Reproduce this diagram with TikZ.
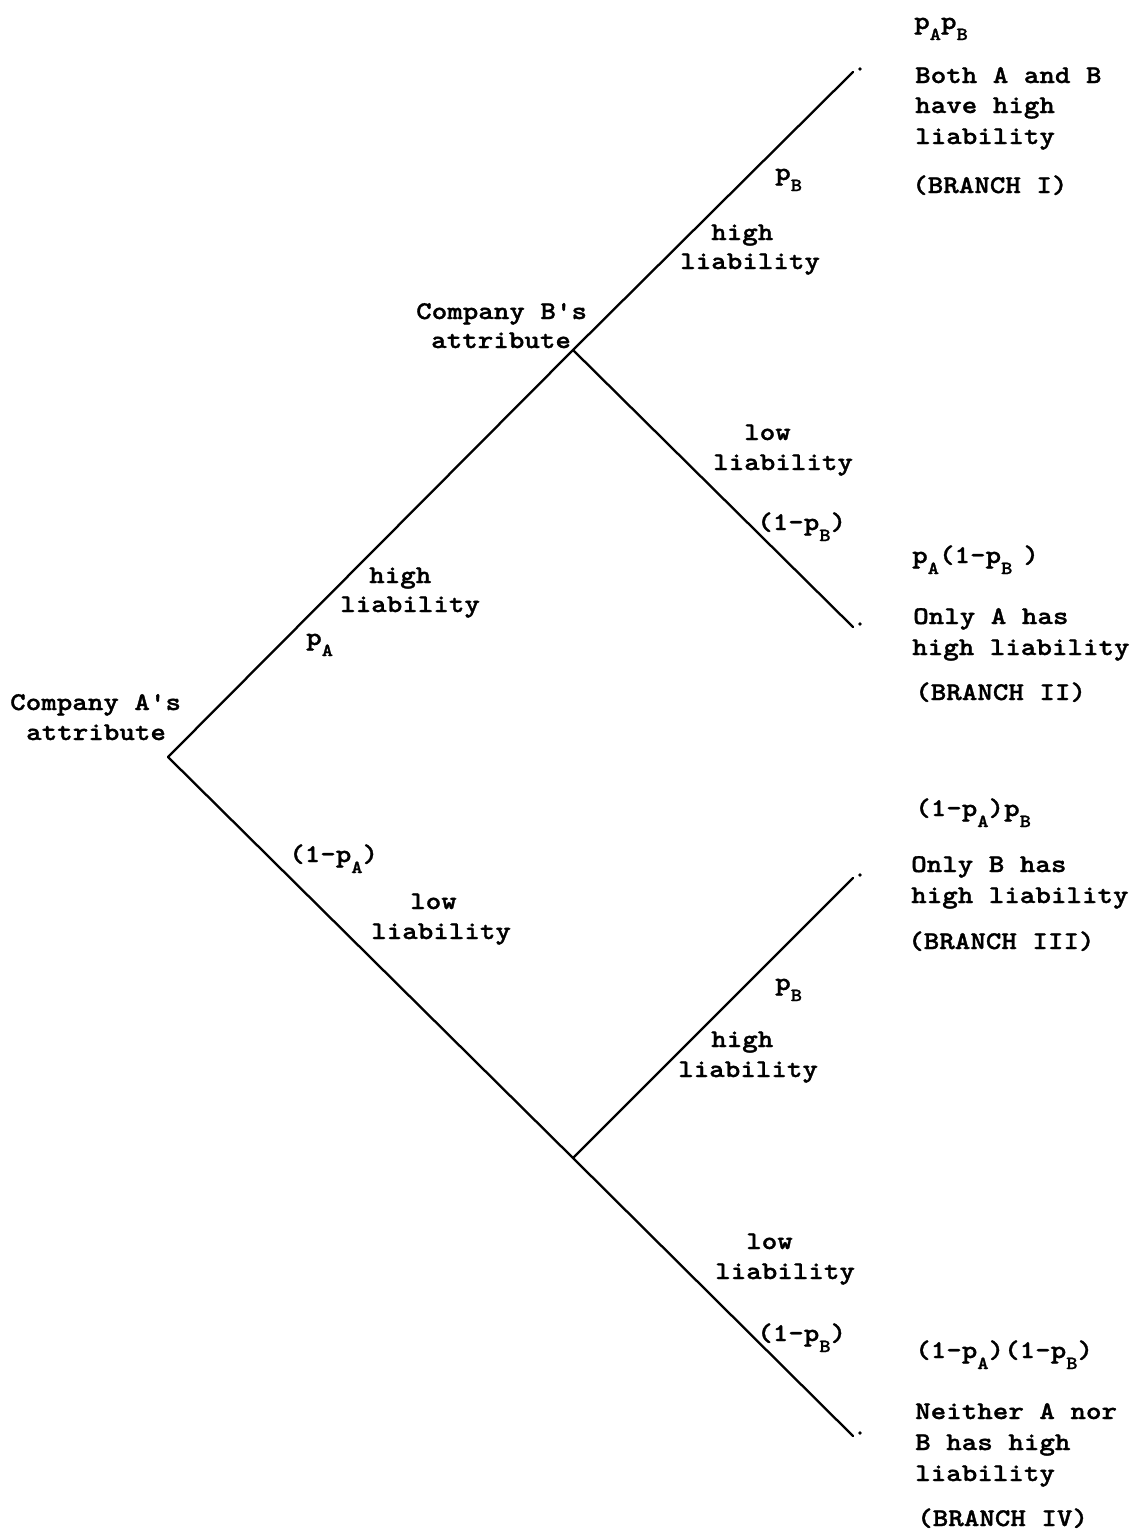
\documentclass[tikz,border=0pt]{standalone}
\usepackage{fontspec}
% dark slab-serif typewriter face, widened to a 15.5pt pitch
\newfontfamily\tw{lmmonolt10-bold.otf}[FakeStretch=1.16, FakeBold=1.2]
% lowered, smaller index letter (typewriter style subscript)
\newcommand\lsub[1]{\raisebox{-11pt}{\fontsize{18.5pt}{18.5pt}\selectfont #1}}
\begin{document}
\begin{tikzpicture}[x=1pt,y=-1pt,
  branch/.style={line width=2.3pt, line cap=round},
  lbl/.style={anchor=base west, inner sep=0pt,
    font=\tw\fontsize{25.5pt}{30pt}\selectfont},
  tip/.style={circle, fill, inner sep=0pt, minimum size=3.8pt}]
\useasboundingbox (0,0) rectangle (1141,1534);

% tree vertices
\coordinate (root) at (168,757);
\coordinate (bhi) at (573,350);
\coordinate (blo) at (573,1158);
\coordinate (e1) at (853,72);
\coordinate (e2) at (853,627);
\coordinate (e3) at (853,878);
\coordinate (e4) at (853,1436);
\node[tip] (t1) at (860,69) {};
\node[tip] (t2) at (860,624) {};
\node[tip] (t3) at (860,875) {};
\node[tip] (t4) at (860,1433) {};

\draw[branch] (root) -- (bhi);
\draw[branch] (root) -- (blo);
\draw[branch] (bhi) -- (e1);
\draw[branch] (bhi) -- (e2);
\draw[branch] (blo) -- (e3);
\draw[branch] (blo) -- (e4);

% decision points
\node[lbl] (ca1) at (10,710) {Company A's};
\node[lbl] (ca2) at (26,740) {attribute};
\node[lbl] (cb1) at (416,319) {Company B's};
\node[lbl] (cb2) at (431,348) {attribute};

% first stage labels
\node[lbl] (h1a) at (369,583) {high};
\node[lbl] (h1b) at (340,612) {liability};
\node[lbl] (pa) at (306,645) {p\lsub{A}};
\node[lbl] (qa) at (289,862) {(1-p\lsub{A})};
\node[lbl] (l1a) at (410,909) {low};
\node[lbl] (l1b) at (371,939) {liability};

% second stage labels, upper
\node[lbl] (pb1) at (775,180) {p\lsub{B}};
\node[lbl] (h2a) at (711,240) {high};
\node[lbl] (h2b) at (680,269) {liability};
\node[lbl] (l2a) at (744,440) {low};
\node[lbl] (l2b) at (713,470) {liability};
\node[lbl] (qb1) at (757,530) {(1-p\lsub{B})};

% second stage labels, lower
\node[lbl] (pb2) at (775,990) {p\lsub{B}};
\node[lbl] (h3a) at (711,1047) {high};
\node[lbl] (h3b) at (678,1077) {liability};
\node[lbl] (l3a) at (746,1249) {low};
\node[lbl] (l3b) at (715,1279) {liability};
\node[lbl] (qb2) at (757,1341) {(1-p\lsub{B})};

% outcomes
\node[lbl] (o1p) at (914,29) {p\lsub{A}p\lsub{B}};
\node[lbl] (o1a) at (915,83) {Both A and B};
\node[lbl] (o1b) at (915,113) {have high};
\node[lbl] (o1c) at (915,144) {liability};
\node[lbl] (o1d) at (912,193) {(BRANCH I)};

\node[lbl] (o2p) at (912,563) {p\lsub{A}(1-p\lsub{B}\kern11pt)};
\node[lbl] (o2a) at (913,624) {Only A has};
\node[lbl] (o2b) at (912,655) {high liability};
\node[lbl] (o2c) at (915,700) {(BRANCH II)};

\node[lbl] (o3p) at (915,816) {(1-p\lsub{A})p\lsub{B}};
\node[lbl] (o3a) at (911,872) {Only B has};
\node[lbl] (o3b) at (911,903) {high liability};
\node[lbl] (o3c) at (908,949) {(BRANCH III)};

\node[lbl] (o4p) at (915,1358) {(1-p\lsub{A})(1-p\lsub{B})};
\node[lbl] (o4a) at (915,1419) {Neither A nor};
\node[lbl] (o4b) at (915,1450) {B has high};
\node[lbl] (o4c) at (915,1481) {liability};
\node[lbl] (o4d) at (917,1526) {(BRANCH IV)};
\end{tikzpicture}
\end{document}
